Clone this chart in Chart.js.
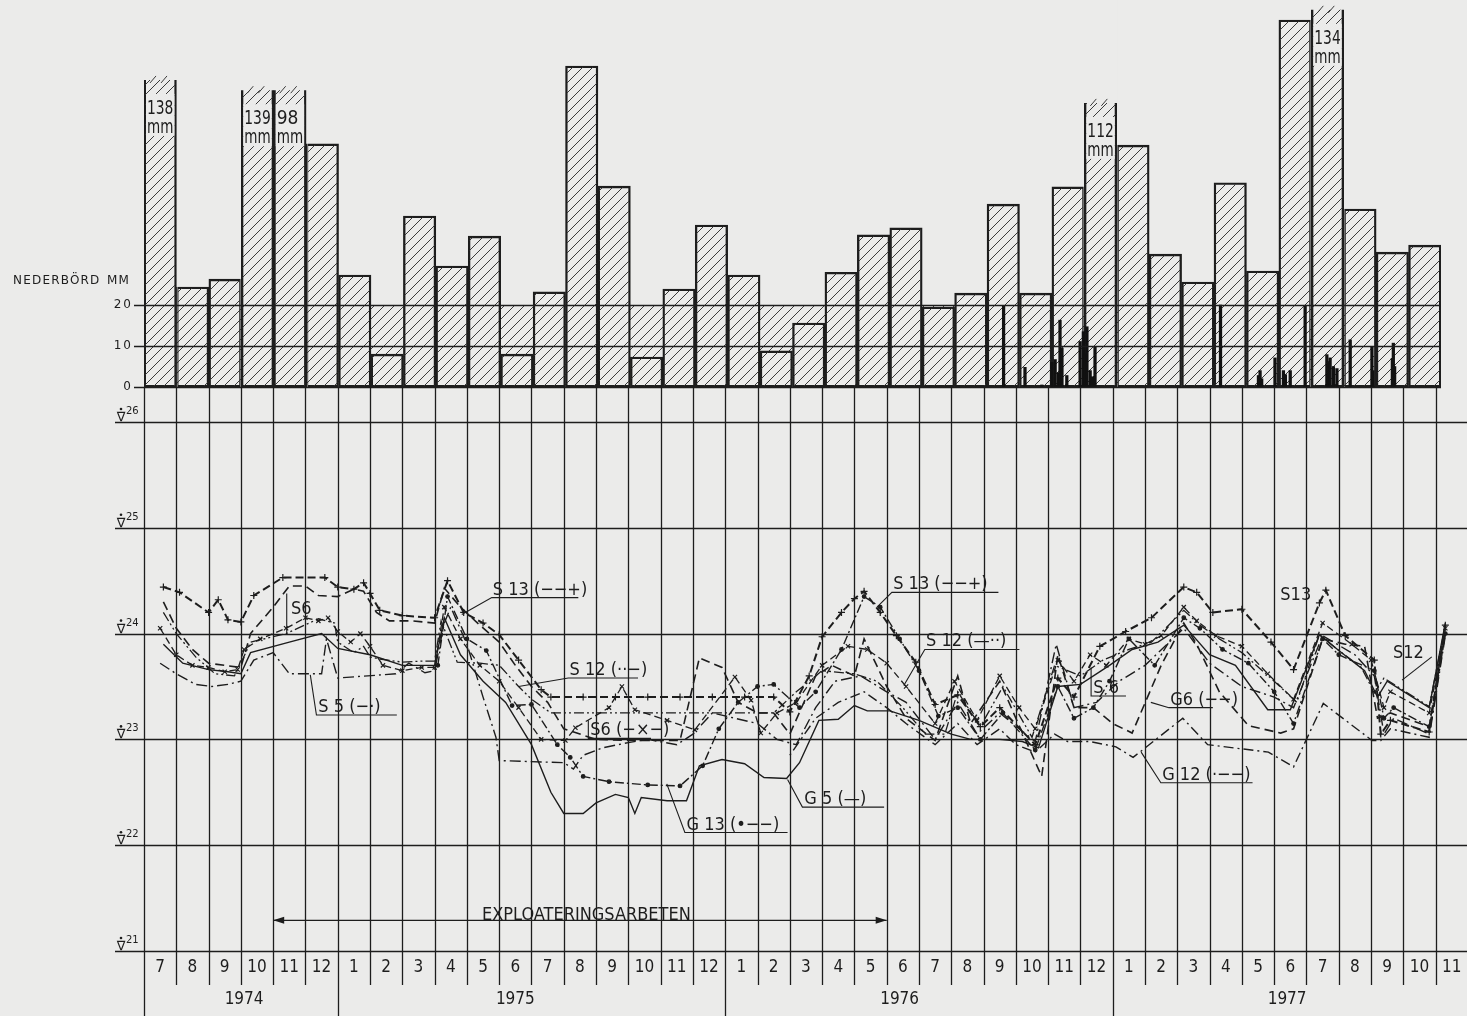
<!DOCTYPE html>
<html>
<head>
<meta charset="utf-8">
<title>Nederbörd och grundvattennivåer 1974–1977</title>
<script src="https://cdn.jsdelivr.net/npm/chart.js@4.4.1/dist/chart.umd.min.js"></script>
<style>
  html, body { margin: 0; padding: 0; background: #ebebea; overflow: hidden; width: 1467px; height: 1016px; }
  #wrap { position: relative; width: 1467px; height: 1016px; }
  canvas { position: absolute; left: 0; }
  #rain { top: 0; }
  #level { top: 387px; }
</style>
</head>
<body>
<div id="wrap">
  <canvas id="rain" width="1467" height="400"></canvas>
  <canvas id="level" width="1467" height="629"></canvas>
</div>
<script>
// ---------- data ----------
// month index 0 = July 1974, one column per month up to November 1977
const monthLabels = ['7','8','9','10','11','12','1','2','3','4','5','6','7','8','9','10','11','12',
                     '1','2','3','4','5','6','7','8','9','10','11','12',
                     '1','2','3','4','5','6','7','8','9','10','11'];
const yearLabels = ['1974', '1975', '1976', '1977'];
const yearStarts = [0, 6, 18, 30];          // month index where each year begins
const yearLabelAt = [3.1, 11.5, 23.4, 35.4]; // month position of the year caption

// monthly precipitation, mm (July 1974 – October 1977)
const monthlyPrecip = [138, 24.4, 26.3, 139, 98, 59.3, 27.3, 8.0, 41.7, 29.5, 36.8, 8.0, 23.2, 78.3,
                       49.0, 7.3, 23.9, 39.5, 27.3, 8.8, 15.6, 28.0, 37.1, 38.8, 19.5, 22.9, 44.6,
                       22.9, 48.8, 112, 59.0, 32.4, 25.6, 49.8, 28.3, 89.5, 134, 43.4, 32.9, 34.6];

// daily precipitation, mm (position in months, value)
const dailyPos    = [26.51, 27.17, 27.69, 28.00, 28.10, 28.20, 28.25, 28.31, 28.46, 28.87, 28.97, 29.02,
                     29.08, 29.18, 29.25, 29.33, 33.20, 34.37, 34.42, 34.47, 34.88, 35.14, 35.20, 35.35,
                     35.81, 36.48, 36.53, 36.58, 36.68, 36.79, 37.20, 37.87, 37.90, 38.50, 38.53, 38.57];
const dailyPrecip = [19.8, 4.8, 0.5, 6.0, 6.7, 3.5, 16.3, 9.5, 2.8, 11.1, 13.5, 8.0,
                     14.7, 4.0, 2.5, 9.9, 20.0, 2.8, 4.0, 2.0, 7.1, 4.0, 3.0, 4.0,
                     19.8, 7.9, 6.0, 7.1, 5.0, 4.5, 11.5, 9.9, 4.0, 7.0, 10.7, 5.0];

const precipTicks = [0, 10, 20];
const levelTicks = [21, 22, 23, 24, 25, 26];
const worksStart = 4, worksEnd = 23;   // EXPLOATERINGSARBETEN, Nov 1974 – May 1976

// groundwater levels, m  ([month position, level])
const S13 = [[0.6,24.44],[1.1,24.39],[2.0,24.20],[2.3,24.32],[2.6,24.13],[3.0,24.11],[3.4,24.36],[4.3,24.53],
  [5.6,24.53],[6.0,24.44],[6.5,24.42],[6.8,24.48],[7.0,24.38],[7.3,24.22],[8.0,24.17],[9.0,24.15],[9.4,24.50],
  [9.9,24.20],[10.5,24.10],[11.0,23.99],[11.6,23.75],[12.3,23.47],[12.6,23.40],[13.6,23.40],[14.6,23.40],
  [15.6,23.40],[16.6,23.40],[17.6,23.40],[18.6,23.40],[19.5,23.40],[20.0,23.26],[20.6,23.60],[21.0,23.97],
  [21.6,24.20],[22.0,24.33],[22.3,24.40],[22.8,24.20],[23.3,23.98],[23.9,23.73],[24.5,23.33],[25.2,23.42],
  [25.9,23.12],[26.5,23.30],[27.6,22.95],[28.3,23.58],[28.8,23.40],[29.6,23.88],[30.4,24.02],[31.2,24.15],
  [32.2,24.44],[32.6,24.39],[33.1,24.20],[34.0,24.23],[34.9,23.92],[35.6,23.66],[36.4,24.29],[36.6,24.41],
  [37.2,23.98],[38.1,23.75],[38.3,23.05],[38.6,23.18],[39.8,23.07],[40.3,24.08]];
const S12 = [[0.6,24.20],[1.0,24.00],[1.6,23.78],[2.2,23.62],[2.8,23.60],[3.0,23.72],[3.3,23.92],[4.4,24.00],
  [5.4,24.14],[5.9,24.10],[6.0,23.92],[6.5,23.82],[6.8,23.88],[7.0,23.78],[7.3,23.76],[8.0,23.73],[8.6,23.74],
  [9.0,23.74],[9.2,24.12],[9.7,23.73],[10.4,23.72],[11.0,23.70],[11.6,23.50],[12.0,23.38],[12.6,23.25],
  [19.5,23.25],[20.2,23.45],[21.0,23.65],[22.0,23.62],[22.7,23.55],[23.5,23.30],[24.2,23.05],[24.8,23.05],
  [25.2,23.45],[25.9,23.12],[26.6,23.50],[27.5,23.02],[28.2,23.70],[29.0,23.60],[29.7,23.75],[30.5,23.85],
  [31.2,23.92],[32.2,24.22],[32.7,24.08],[33.3,23.95],[34.0,23.82],[35.0,23.55],[35.7,23.35],[36.4,23.99],
  [37.0,23.84],[37.7,23.68],[38.1,23.44],[38.4,23.58],[39.8,23.31],[40.3,24.08]];
const S6 = [[0.5,24.05],[1.0,23.80],[1.5,23.70],[2.0,23.68],[2.5,23.64],[2.9,23.66],[3.1,23.85],[3.6,23.95],
  [4.4,24.05],[5.0,24.15],[5.4,24.12],[5.7,24.15],[6.0,24.02],[6.4,23.92],[6.7,24.00],[7.0,23.88],[7.4,23.70],
  [8.0,23.65],[8.6,23.68],[9.0,23.68],[9.3,24.25],[9.8,23.95],[10.4,23.70],[11.0,23.55],[11.6,23.30],
  [12.3,23.00],[13.05,22.99],[13.36,23.11],[14.4,23.30],[14.8,23.50],[15.2,23.28],[16.2,23.18],[17.06,23.09],
  [18.3,23.59],[18.8,23.37],[19.1,23.06],[19.6,23.25],[20.2,23.35],[21.0,23.70],[21.8,23.88],[22.4,23.85],
  [23.0,23.72],[23.6,23.50],[24.5,23.15],[25.1,23.55],[25.8,23.18],[26.5,23.60],[27.1,23.30],[27.6,23.10],
  [28.3,23.75],[28.8,23.55],[29.3,23.80],[29.8,23.70],[30.5,23.95],[31.0,23.90],[31.5,23.98],[32.2,24.25],
  [32.6,24.12],[33.2,23.98],[34.0,23.88],[34.8,23.62],[35.6,23.38],[36.5,24.10],[37.4,23.90],[38.0,23.75],
  [38.4,23.30],[38.6,23.45],[39.8,23.25],[40.3,24.05]];
const S5 = [[0.5,23.72],[1.0,23.62],[1.6,23.52],[2.1,23.50],[2.6,23.52],[3.0,23.55],[3.4,23.75],[4.0,23.82],
  [4.5,23.62],[5.5,23.62],[5.65,23.95],[6.0,23.58],[7.8,23.62],[8.2,23.72],[8.7,23.63],[9.0,23.65],[9.3,24.10],
  [9.5,24.25],[10.0,23.90],[10.5,23.40],[10.9,23.02],[11.0,22.80],[13.0,22.78],[13.3,22.72],[13.6,22.85],
  [14.2,22.92],[15.0,22.97],[15.6,23.00],[16.5,22.95],[17.0,23.05],[17.6,23.25],[18.3,23.20],[19.0,23.15],
  [19.6,23.00],[20.2,22.95],[20.8,23.30],[21.4,23.55],[22.2,23.60],[23.0,23.45],[23.6,23.35],[24.5,23.00],
  [25.2,23.35],[25.8,23.05],[26.5,23.25],[27.6,22.98],[28.25,23.90],[28.8,23.30],[29.5,23.35],[30.2,23.55],
  [31.0,23.70],[32.2,24.05],[33.0,23.72],[34.0,23.50],[35.0,23.40],[35.6,23.30],[36.5,23.98],[37.5,23.80],
  [38.1,23.60],[38.4,23.05],[38.7,23.20],[39.8,23.05],[40.3,24.00]];
const G5 = [[0.6,23.90],[1.2,23.72],[2.0,23.66],[2.6,23.64],[3.0,23.62],[3.3,23.82],[4.5,23.92],[5.5,24.00],
  [6.0,23.86],[7.0,23.80],[8.0,23.70],[9.0,23.70],[9.3,24.15],[9.8,23.80],[10.5,23.55],[11.2,23.35],
  [12.0,22.95],[12.6,22.50],[13.0,22.30],[13.6,22.30],[14.0,22.40],[14.6,22.48],[15.0,22.45],[15.2,22.30],
  [15.4,22.45],[16.2,22.42],[16.8,22.42],[17.2,22.75],[17.9,22.81],[18.6,22.77],[19.2,22.64],[19.9,22.63],
  [20.3,22.78],[20.9,23.18],[21.5,23.19],[22.0,23.32],[22.4,23.27],[23.1,23.27],[24.0,23.18],[25.0,23.05],
  [25.6,23.00],[26.5,23.00],[27.2,22.98],[27.7,22.92],[28.3,23.50],[29.0,23.52],[29.9,23.70],[30.6,23.85],
  [31.4,23.92],[32.2,24.08],[33.0,23.80],[33.8,23.70],[34.8,23.28],[35.5,23.28],[36.4,23.99],[37.0,23.84],
  [37.8,23.65],[38.2,23.40],[38.5,23.55],[39.8,23.30],[40.3,24.10]];
const G13 = [[9.1,23.70],[9.4,24.35],[10.0,23.95],[10.6,23.84],[11.4,23.32],[12.0,23.33],[12.8,22.95],
  [13.2,22.83],[13.6,22.65],[14.4,22.60],[15.6,22.57],[16.6,22.56],[17.3,22.75],[17.8,23.10],[18.4,23.35],
  [19.0,23.50],[19.5,23.52],[20.3,23.30],[20.8,23.45],[21.6,23.85],[22.3,24.35],[22.8,24.25],[23.4,23.95],
  [24.0,23.65],[24.6,23.22],[25.2,23.30],[25.9,23.00],[26.6,23.25],[27.6,22.90],[28.3,23.50],[28.8,23.20],
  [29.4,23.30],[29.9,23.55],[30.5,23.95],[31.3,23.70],[32.2,24.15],[32.7,24.05],[33.4,23.85],[34.2,23.72],
  [35.0,23.45],[35.6,23.15],[36.5,23.95],[37.0,23.80],[38.1,23.65],[38.4,23.20],[38.7,23.30],[39.8,23.12],
  [40.3,24.00]];
const G6 = [[0.6,24.30],[1.0,24.05],[1.5,23.85],[2.0,23.72],[2.5,23.70],[3.0,23.68],[3.3,24.00],[4.0,24.25],
  [4.5,24.45],[5.0,24.45],[5.4,24.36],[6.0,24.35],[6.5,24.42],[6.8,24.40],[7.2,24.20],[7.6,24.12],[8.3,24.12],
  [9.0,24.10],[9.3,24.43],[9.8,24.25],[10.4,24.08],[11.0,23.92],[11.5,23.70],[12.0,23.50],[12.5,23.35],
  [13.0,23.10],[14.0,23.00],[15.0,22.99],[16.6,22.99],[17.2,23.77],[17.9,23.68],[18.4,23.35],[19.0,23.25],
  [19.5,23.25],[20.0,23.05],[20.8,23.60],[21.3,23.70],[22.0,23.60],[22.3,23.95],[23.0,23.50],[23.6,23.20],
  [24.5,22.99],[25.2,23.60],[25.6,23.15],[26.5,23.55],[27.0,23.20],[27.8,22.65],[28.3,23.80],[28.8,23.30],
  [29.4,23.30],[30.0,23.15],[30.6,23.06],[31.5,23.70],[32.2,24.10],[32.6,23.90],[33.3,23.45],[34.2,23.13],
  [35.2,23.06],[35.6,23.10],[36.5,23.95],[37.2,23.90],[37.8,23.88],[38.2,23.20],[38.6,23.25],[39.8,23.12],
  [40.3,24.05]];
const G12 = [[20.0,22.85],[20.8,23.20],[21.5,23.35],[22.3,23.45],[23.0,23.30],[23.6,23.15],[24.5,22.95],
  [25.2,23.15],[25.8,22.95],[26.5,23.10],[27.0,22.95],[27.6,22.88],[28.2,23.05],[28.6,22.98],[29.3,22.98],
  [30.1,22.93],[30.63,22.83],[32.17,23.20],[32.94,22.95],[34.82,22.88],[35.6,22.74],[36.52,23.34],
  [38.03,22.99],[38.3,22.99],[38.6,23.10],[39.8,23.02],[40.3,23.98]];

// ---------- drawing helpers ----------
const INK = '#1d1d1d';
const PAPER = '#ebebea';
const FONT = '"DejaVu Sans Condensed", "Liberation Sans Narrow", "DejaVu Sans", sans-serif';

function makeHatch(ctx) {
  const c = document.createElement('canvas');
  c.width = 10; c.height = 10;
  const g = c.getContext('2d');
  g.strokeStyle = '#3a3a3a';
  g.lineWidth = 1;
  g.beginPath();
  g.moveTo(-1, 11); g.lineTo(11, -1);
  g.moveTo(-6, 6);  g.lineTo(6, -6);
  g.moveTo(4, 16);  g.lineTo(16, 4);
  g.stroke();
  return ctx.createPattern(c, 'repeat');
}

function seg(ctx, x1, y1, x2, y2) {
  ctx.beginPath(); ctx.moveTo(x1, y1); ctx.lineTo(x2, y2); ctx.stroke();
}

// ---------- precipitation chart ----------
const rainCtx = document.getElementById('rain').getContext('2d');
const hatch = makeHatch(rainCtx);

const rainDecor = {
  id: 'rainDecor',
  beforeDatasetsDraw(chart) {
    const { ctx, chartArea: a, scales: { y } } = chart;
    // hatched band for the daily scale 0–20 mm
    ctx.save();
    ctx.fillStyle = hatch;
    const yTop = y.getPixelForValue(20), yBot = y.getPixelForValue(0);
    ctx.fillRect(a.left, yTop, a.right - a.left, yBot - yTop);
    ctx.restore();
  },
  beforeDatasetDraw(chart, args, opts) {
    if (args.index !== 0) return;
    // broken bars are cut at their break level, the others run to the top
    const { ctx, chartArea: a, scales: { x, y } } = chart;
    const n = monthlyPrecip.length;
    const br = opts.broken;
    ctx.save();
    ctx.beginPath();
    monthlyPrecip.forEach((v, i) => {
      const isBroken = br[i] !== undefined;
      let l = x.getPixelForValue(i), r = x.getPixelForValue(i + 1);
      if (i === 0) l -= 3;
      if (i === n - 1) r += 3;
      if (isBroken) { l = Math.floor(l); r = Math.ceil(r); }
      else {
        if (br[i - 1] !== undefined) l = Math.ceil(l) + 0.4;
        if (br[i + 1] !== undefined) r = Math.floor(r) - 0.4;
      }
      const top = isBroken ? y.getPixelForValue(br[i]) : a.top;
      ctx.rect(l, top, r - l, a.bottom + 4 - top);
    });
    ctx.clip();
  },
  afterDatasetDraw(chart, args) {
    if (args.index !== 0) return;
    chart.ctx.restore();
  },
  afterDatasetsDraw(chart, args, opts) {
    const { ctx, chartArea: a, scales: { x, y } } = chart;
    ctx.save();
    ctx.strokeStyle = INK;
    ctx.lineWidth = 1.3;
    precipTicks.forEach(t => {
      const py = Math.round(y.getPixelForValue(t)) + 0.5;
      seg(ctx, a.left - 10, py, a.right, py);
    });
    ctx.fillStyle = INK;
    ctx.font = '12px "DejaVu Sans", sans-serif';
    ctx.textAlign = 'right';
    ctx.textBaseline = 'middle';
    ctx.letterSpacing = '2px';
    precipTicks.forEach(t => ctx.fillText(String(t), a.left - 11, y.getPixelForValue(t)));
    ctx.textAlign = 'left';
    ctx.letterSpacing = '1.2px';
    ctx.fillText('NEDERBÖRD', 13, y.getPixelForValue(26));
    ctx.fillText('MM', 107, y.getPixelForValue(26));
    ctx.letterSpacing = '0px';
    // open tops and captions on the broken bars
    ctx.font = '19px ' + FONT;
    ctx.textBaseline = 'alphabetic';
    Object.keys(opts.broken).forEach(k => {
      const i = +k;
      const top = y.getPixelForValue(opts.broken[k]);
      const l = x.getPixelForValue(i) + 2, r = x.getPixelForValue(i + 1) - 2;
      const w = r - l;
      ctx.strokeStyle = '#3a3a3a';
      ctx.lineWidth = 1;
      for (let s = l + 4; s < r - 4; s += 11) seg(ctx, s, top + 3, s + 6, top - 4);
      ctx.fillStyle = PAPER;
      ctx.fillRect(l, top + 14, w, 42);
      ctx.fillStyle = INK;
      ctx.fillText(String(monthlyPrecip[i]), l + 1, top + 34, w - 2);
      ctx.fillText('mm', l + 1, top + 53, w - 2);
    });
    ctx.restore();
  }
};

new Chart(rainCtx, {
  type: 'bar',
  data: {
    datasets: [
      {
        label: 'Nederbörd per månad',
        data: monthlyPrecip.map((v, i) => ({ x: i + 0.5, y: v })),
        xAxisID: 'x',
        backgroundColor: hatch,
        borderColor: INK,
        borderWidth: 1.7,
        borderSkipped: false,
        barPercentage: 1,
        categoryPercentage: 1,
        grouped: false,
        order: 2
      },
      {
        label: 'Nederbörd per dygn',
        data: dailyPos.map((p, i) => ({ x: p, y: dailyPrecip[i] })),
        xAxisID: 'xd',
        backgroundColor: '#111',
        borderWidth: 0,
        barThickness: 2.6,
        grouped: false,
        order: 1
      }
    ]
  },
  options: {
    responsive: false,
    animation: false,
    events: [],
    layout: { padding: { left: 144, right: 26, top: 0, bottom: 13 } },
    plugins: {
      legend: { display: false },
      tooltip: { enabled: false },
      rainDecor: { broken: { 0: 74.9, 3: 72.4, 4: 72.4, 29: 69.3, 36: 92.0 } }
    },
    scales: {
      x:  { type: 'linear', min: 0, max: 40, offset: false, display: false },
      xd: { type: 'linear', min: 0, max: 40, offset: false, display: false },
      y:  { type: 'linear', min: 0, max: 94.4, display: false }
    }
  },
  plugins: [rainDecor]
});

// ---------- groundwater level chart ----------
const notes = [
  { text: 'S 13 (−−+)', m: 10.80, lv: 24.34, path: [[9.84,24.18],[10.77,24.34],[13.45,24.34]] },
  { text: 'S6',         m: 4.55,  lv: 24.16, path: [[4.42,24.38],[4.42,23.99]] },
  { text: 'S 5 (−·)',   m: 5.40,  lv: 23.23, path: [[5.15,23.61],[5.34,23.23],[7.83,23.23]] },
  { text: 'S 12 (··−)', m: 13.18, lv: 23.58, path: [[11.6,23.50],[13.14,23.58],[15.3,23.58]] },
  { text: 'S6 (−×−)',   m: 13.82, lv: 23.01, path: [[13.76,23.18],[13.76,23.01],[15.7,23.01]] },
  { text: 'G 13 (•−−)', m: 16.80, lv: 22.12, path: [[16.19,22.58],[16.75,22.12],[19.93,22.12]] },
  { text: 'G 5 (—)',    m: 20.45, lv: 22.36, path: [[19.93,22.62],[20.39,22.36],[22.92,22.36]] },
  { text: 'S 13 (−−+)', m: 23.20, lv: 24.39, path: [[22.70,24.25],[23.16,24.39],[26.46,24.39]] },
  { text: 'S 12 (—··)', m: 24.22, lv: 23.85, path: [[23.53,23.51],[24.18,23.85],[27.11,23.85]] },
  { text: 'S 6',        m: 29.40, lv: 23.41, path: [[29.33,23.68],[29.33,23.41],[30.41,23.41]] },
  { text: 'G6 (−−)',    m: 31.78, lv: 23.30, path: [[31.18,23.35],[31.74,23.30],[33.10,23.30]] },
  { text: 'G 12 (·−−)', m: 31.53, lv: 22.59, path: [[30.88,22.88],[31.49,22.59],[34.33,22.59]] },
  { text: 'S13',        m: 35.19, lv: 24.29, path: [] },
  { text: 'S12',        m: 38.68, lv: 23.74, path: [[39.88,23.78],[38.96,23.56]] }
];

const levelDecor = {
  id: 'levelDecor',
  beforeDatasetsDraw(chart) {
    const { ctx, chartArea: a, scales: { x, y } } = chart;
    ctx.save();
    ctx.strokeStyle = INK;
    ctx.lineWidth = 1.3;
    levelTicks.forEach(t => {
      const py = Math.round(y.getPixelForValue(t)) + 0.5;
      seg(ctx, 115, py, chart.width, py);
    });
    for (let i = 0; i <= monthLabels.length; i++) {
      const px = Math.round(x.getPixelForValue(i)) + 0.5;
      const full = yearStarts.includes(i);
      seg(ctx, px, 0, px, full ? chart.height : a.bottom + 34);
    }
    // level captions ∇ with the elevation
    ctx.fillStyle = INK;
    ctx.textBaseline = 'alphabetic';
    levelTicks.forEach(t => {
      const py = y.getPixelForValue(t);
      ctx.font = '13px "DejaVu Sans", sans-serif';
      ctx.textAlign = 'center';
      ctx.fillText('∇', 121, py - 1);
      ctx.beginPath(); ctx.arc(121, py - 13, 1.3, 0, Math.PI * 2); ctx.fill();
      ctx.font = '10px "DejaVu Sans", sans-serif';
      ctx.textAlign = 'left';
      ctx.fillText(String(t), 126, py - 8);
    });
    // month and year captions
    ctx.font = '17px ' + FONT;
    ctx.textAlign = 'center';
    ctx.textBaseline = 'middle';
    monthLabels.forEach((lab, i) => ctx.fillText(lab, x.getPixelForValue(i + 0.5), a.bottom + 17));
    yearLabels.forEach((lab, i) => ctx.fillText(lab, x.getPixelForValue(yearLabelAt[i]), a.bottom + 49));
    // exploitation period arrow
    const ay = y.getPixelForValue(21.29);
    const x1 = x.getPixelForValue(worksStart), x2 = x.getPixelForValue(worksEnd);
    ctx.lineWidth = 1.2;
    seg(ctx, x1, ay, x2, ay);
    ctx.beginPath();
    ctx.moveTo(x1, ay); ctx.lineTo(x1 + 11, ay - 3.5); ctx.lineTo(x1 + 11, ay + 3.5); ctx.closePath(); ctx.fill();
    ctx.beginPath();
    ctx.moveTo(x2, ay); ctx.lineTo(x2 - 11, ay - 3.5); ctx.lineTo(x2 - 11, ay + 3.5); ctx.closePath(); ctx.fill();
    ctx.font = '18px ' + FONT;
    ctx.textBaseline = 'alphabetic';
    ctx.fillText('EXPLOATERINGSARBETEN', x.getPixelForValue(13.7), ay);
    ctx.restore();
  },
  afterDatasetsDraw(chart) {
    const { ctx, scales: { x, y } } = chart;
    ctx.save();
    ctx.strokeStyle = INK;
    ctx.fillStyle = INK;
    ctx.lineWidth = 1.1;
    ctx.font = '18px ' + FONT;
    ctx.textAlign = 'left';
    ctx.textBaseline = 'alphabetic';
    notes.forEach(n => {
      if (n.path.length) {
        ctx.beginPath();
        n.path.forEach(([m, v], k) => {
          const px = x.getPixelForValue(m), py = y.getPixelForValue(v);
          if (k === 0) ctx.moveTo(px, py); else ctx.lineTo(px, py);
        });
        ctx.stroke();
      }
      ctx.fillText(n.text, x.getPixelForValue(n.m), y.getPixelForValue(n.lv) - 3);
    });
    ctx.restore();
  }
};

const series = [
  { name: 'S13', pts: S13, dash: [8, 4],             width: 2.0, marker: 'cross',    r: 3.5 },
  { name: 'S12', pts: S12, dash: [10, 3, 2, 3, 2, 3], width: 1.3 },
  { name: 'S6',  pts: S6,  dash: [7, 4],             width: 1.3, marker: 'crossRot', r: 3 },
  { name: 'S5',  pts: S5,  dash: [11, 4, 2, 4],      width: 1.4 },
  { name: 'G5',  pts: G5,  dash: [],                 width: 1.4 },
  { name: 'G13', pts: G13, dash: [9, 3, 2, 3],       width: 1.4, marker: 'circle',   r: 1.8 },
  { name: 'G6',  pts: G6,  dash: [9, 5],             width: 1.6 },
  { name: 'G12', pts: G12, dash: [2, 4, 10, 4],      width: 1.4 }
];

new Chart(document.getElementById('level'), {
  type: 'line',
  data: {
    datasets: series.map(s => ({
      label: s.name,
      data: s.pts.map(([m, v]) => ({ x: m, y: v })),
      borderColor: INK,
      borderWidth: s.width,
      borderDash: s.dash,
      pointStyle: s.marker || 'circle',
      pointRadius: s.r || 0,
      pointBorderColor: INK,
      pointBackgroundColor: INK,
      pointBorderWidth: 1.2,
      tension: 0,
      fill: false
    }))
  },
  options: {
    responsive: false,
    animation: false,
    events: [],
    layout: { padding: { left: 144, right: 0, top: 35, bottom: 65 } },
    plugins: { legend: { display: false }, tooltip: { enabled: false } },
    scales: {
      x: { type: 'linear', min: 0, max: 40.81, display: false },
      y: { type: 'linear', min: 21, max: 26, display: false }
    }
  },
  plugins: [levelDecor]
});
</script>
</body>
</html>
